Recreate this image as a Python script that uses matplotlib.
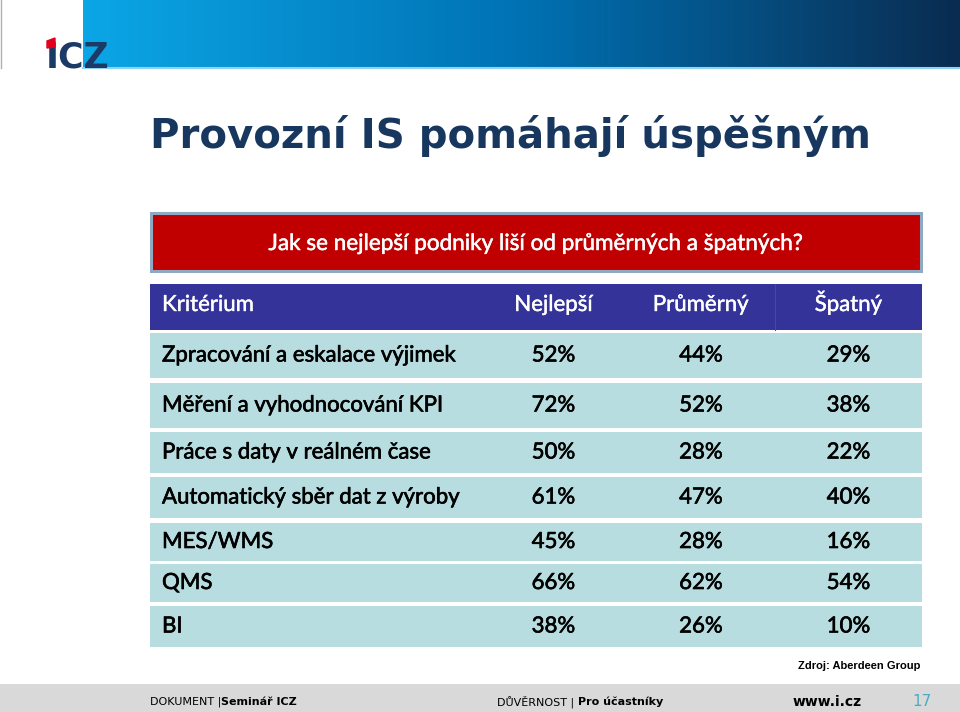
import numpy as np
import matplotlib
matplotlib.use('Agg')
import matplotlib.pyplot as plt
import matplotlib.patheffects as pe
from matplotlib.patches import Rectangle, Polygon
from matplotlib.colors import LinearSegmentedColormap

# --- data ---
title = 'Provozní IS pomáhají úspěšným'
question = 'Jak se nejlepší podniky liší od průměrných a špatných?'
header_label = 'Kritérium'
groups = ['Nejlepší', 'Průměrný', 'Špatný']
criteria = [
    'Zpracování a eskalace výjimek',
    'Měření a vyhodnocování KPI',
    'Práce s daty v reálném čase',
    'Automatický sběr dat z výroby',
    'MES/WMS',
    'QMS',
    'BI',
]
best = [52, 72, 50, 61, 45, 66, 38]
average = [44, 52, 28, 47, 28, 62, 26]
worst = [29, 38, 22, 40, 16, 54, 10]
source = 'Zdroj: Aberdeen Group'

# --- layout (pixels) ---
W, H = 960, 712
tbl_left, tbl_right = 150, 922
col_edges = [480, 627, 775, 922]
row_tops = [333, 383, 432, 477, 523, 564, 606]
row_bottoms = [378, 428, 473, 518, 561, 602, 647]

NAVY = '#17375E'
HEAD = '#333399'
CELL = '#B7DDE0'
RED = '#C00000'
TBL_FONT = ['Lato', 'DejaVu Sans']


def heavy(color, w=0.45):
    # Lato regular is a bit thin next to Calibri; thicken slightly
    return [pe.withStroke(linewidth=w, foreground=color)]


fig = plt.figure(figsize=(W / 100, H / 100), dpi=100)
ax = fig.add_axes([0, 0, 1, 1])
ax.set_xlim(0, W)
ax.set_ylim(H, 0)
ax.axis('off')

# banner gradient
cmap = LinearSegmentedColormap.from_list('banner', ['#0BA6E6', '#0072B4', '#0A2C50'])
grad = np.linspace(0, 1, 256).reshape(1, -1)
ax.imshow(grad, cmap=cmap, aspect='auto', extent=[83, W, 67, 0], zorder=1)
ax.plot([83, W], [68, 68], color='#8FD3F0', lw=1.5, zorder=2)
ax.plot([0.5, 0.5], [0, 68], color='#B0B0B0', lw=1, zorder=2)

# logo
ax.text(46, 68, 'ICZ', fontsize=25, fontweight='bold', color='#1B3A66',
        family='DejaVu Sans', ha='left', va='baseline', zorder=3)
ax.add_patch(Polygon([[47, 41], [55, 38], [55, 47], [47, 48]], closed=True,
                     color='#E3001B', zorder=4))

# title
ax.text(150, 148, title, fontsize=29, fontweight='bold', color=NAVY,
        family='DejaVu Sans', ha='left', va='baseline')

# question box
ax.add_patch(Rectangle((151, 213), 770, 58, facecolor=RED, edgecolor='#8EA9C1', lw=2.2))
ax.text((tbl_left + tbl_right) / 2, 250, question, fontsize=16.2, color='white',
        family=TBL_FONT, ha='center', va='baseline', path_effects=heavy('white', 0.35))

# header row
ax.add_patch(Rectangle((tbl_left, 284), tbl_right - tbl_left, 46, facecolor=HEAD, lw=0))
ax.plot([col_edges[2], col_edges[2]], [284, 330], color='#4646A6', lw=0.8)
ax.text(162, 311, header_label, fontsize=16, color='white', family=TBL_FONT,
        ha='left', va='baseline', path_effects=heavy('white', 0.3))
centers = [(col_edges[i] + col_edges[i + 1]) / 2 for i in range(3)]
for cx, g in zip(centers, groups):
    ax.text(cx, 311, g, fontsize=16, color='white', family=TBL_FONT,
            ha='center', va='baseline', path_effects=heavy('white', 0.3))

# data rows
for i, name in enumerate(criteria):
    top, bot = row_tops[i], row_bottoms[i]
    ax.add_patch(Rectangle((tbl_left, top), tbl_right - tbl_left, bot - top,
                           facecolor=CELL, lw=0))
    yb = (top + bot) / 2 + 6
    ax.text(162, yb, name, fontsize=16, color='black', family=TBL_FONT,
            ha='left', va='baseline', path_effects=heavy('black'))
    for cx, vals in zip(centers, [best, average, worst]):
        ax.text(cx, yb, f'{vals[i]}%', fontsize=16, color='black', family=TBL_FONT,
                ha='center', va='baseline', path_effects=heavy('black'))

# source
ax.text(920, 666, source, fontsize=8, fontweight='bold', color='black',
        family='Liberation Sans', ha='right', va='center')

# footer
ax.add_patch(Rectangle((0, 684), W, H - 684, facecolor='#D9D9D9', lw=0))
fy = 702
ax.text(150, fy, 'DOKUMENT |', fontsize=8, color='black', family='DejaVu Sans',
        ha='left', va='center')
ax.text(221, fy, 'Seminář ICZ', fontsize=8, fontweight='bold', color='black',
        family='DejaVu Sans', ha='left', va='center')
ax.text(497, fy, 'DŮVĚRNOST |', fontsize=8, color='black', family='DejaVu Sans',
        ha='left', va='center')
ax.text(578, fy, 'Pro účastníky', fontsize=8, fontweight='bold', color='black',
        family='DejaVu Sans', ha='left', va='center')
ax.text(793, fy, 'www.i.cz', fontsize=10, fontweight='bold', color='black',
        family='DejaVu Sans', ha='left', va='center')
ax.text(922, fy, '17', fontsize=11, color='#4BACC6', family='DejaVu Sans',
        ha='center', va='center')

fig.savefig('out.png', dpi=100)
